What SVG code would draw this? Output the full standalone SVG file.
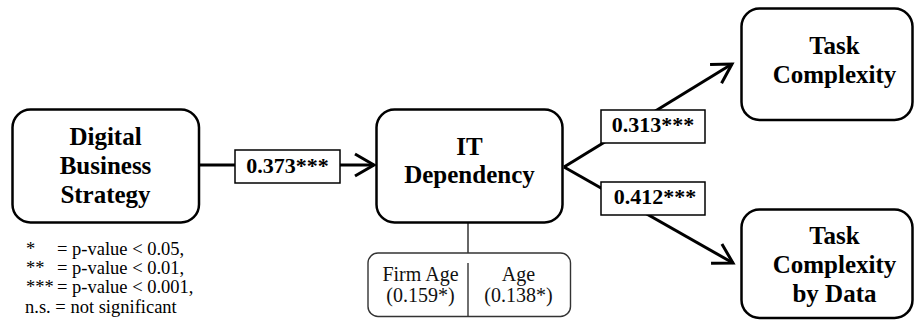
<svg xmlns="http://www.w3.org/2000/svg" width="914" height="320" viewBox="0 0 914 320">
<style>
text{font-family:'Liberation Serif','DejaVu Serif',serif}
.node{fill:#fff;stroke:#000;stroke-width:2.5}
.nt{font-weight:bold;font-size:25px;text-anchor:middle;fill:#000}
.lbl{fill:#fff;stroke:#000;stroke-width:1.5}
.lt{font-weight:bold;font-size:22px;text-anchor:middle;fill:#000}
.conn{stroke:#000;stroke-width:3;fill:none}
.ctl{fill:#fff;stroke:#333;stroke-width:1.4}
.st{font-size:20px;text-anchor:middle;fill:#111}
.leg{font-size:18.5px;fill:#000}
</style>
<defs>
<marker id="arr" markerUnits="userSpaceOnUse" viewBox="-22 -13 24 26" markerWidth="24" markerHeight="26" refX="0" refY="0" orient="auto" overflow="visible">
<path d="M-19,-11 L0,0 L-19,11" fill="none" stroke="#000" stroke-width="3"/>
</marker>
</defs>
<g id="connectors">
<line class="conn" x1="199" y1="165" x2="374" y2="165" marker-end="url(#arr)"/>
<line class="conn" x1="564" y1="167" x2="733" y2="263" marker-end="url(#arr)"/>
<line class="conn" x1="564" y1="167" x2="732" y2="64" marker-end="url(#arr)"/>
<line x1="468" y1="223" x2="468" y2="253" stroke="#333" stroke-width="1.5"/>
<g id="label-1">
<rect class="lbl" x="235" y="150" width="105" height="33"/>
<text class="lt" x="287.5" y="173">0.373***</text>
</g>
<g id="label-2">
<rect class="lbl" x="601" y="110" width="104" height="33"/>
<text class="lt" x="653" y="132">0.313***</text>
</g>
<g id="label-3">
<rect class="lbl" x="601" y="182" width="104" height="33"/>
<text class="lt" x="655" y="204">0.412***</text>
</g>
</g>
<g id="node-dbs">
<rect class="node" x="12.5" y="109.5" width="186.5" height="113" rx="18"/>
<text class="nt" x="105.5" y="145">Digital</text>
<text class="nt" x="105.5" y="174">Business</text>
<text class="nt" x="105.5" y="203">Strategy</text>
</g>
<g id="node-itd">
<rect class="node" x="376.5" y="109.5" width="186" height="113" rx="18"/>
<text class="nt" x="469.5" y="155">IT</text>
<text class="nt" x="469.5" y="183">Dependency</text>
</g>
<g id="node-tc">
<rect class="node" x="741.5" y="8.5" width="171" height="111.5" rx="18"/>
<text class="nt" x="834.5" y="54">Task</text>
<text class="nt" x="834.5" y="83">Complexity</text>
</g>
<g id="node-tcd">
<rect class="node" x="741.5" y="209.5" width="171" height="108.5" rx="18"/>
<text class="nt" x="834.5" y="244">Task</text>
<text class="nt" x="834.5" y="273">Complexity</text>
<text class="nt" x="834.5" y="302">by Data</text>
</g>
<g id="node-controls">
<rect class="ctl" x="368" y="253" width="202.5" height="63.5" rx="10"/>
<line x1="468" y1="263" x2="468" y2="316" stroke="#333" stroke-width="1.4"/>
<text class="st" x="420.5" y="281">Firm Age</text>
<text class="st" x="420.5" y="302">(0.159*)</text>
<text class="st" x="518.5" y="281">Age</text>
<text class="st" x="518.5" y="302">(0.138*)</text>
</g>
<g id="legend">
<text class="leg" x="26" y="255">*</text><text class="leg" x="57" y="255">= p-value &lt; 0.05,</text>
<text class="leg" x="26" y="274">**</text><text class="leg" x="57" y="274">= p-value &lt; 0.01,</text>
<text class="leg" x="26" y="293">***</text><text class="leg" x="57" y="293">= p-value &lt; 0.001,</text>
<text class="leg" x="25" y="313">n.s. = not significant</text>
</g>
</svg>
